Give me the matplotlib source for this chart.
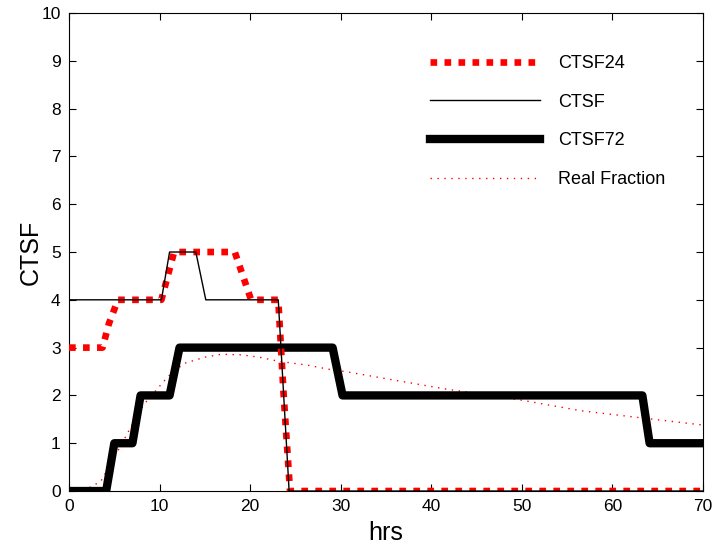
import matplotlib
matplotlib.use('Agg')
import matplotlib.pyplot as plt

plt.rcParams['font.family'] = ['Liberation Sans', 'DejaVu Sans']

# CTSF24 (red thick dotted)
ctsf24_t = [0, 3.7, 4.4, 5.4, 10.2, 10.9, 11.6, 18.3, 19.2, 20.1, 23.1, 23.7, 24.4, 70]
ctsf24_v = [3, 3, 3.5, 4, 4, 4.5, 5, 5, 4.5, 4, 4, 2, 0, 0]

# CTSF (thin black)
ctsf_t = [0, 10.2, 11.1, 14.0, 15.1, 23.1, 24.3, 70]
ctsf_v = [4, 4, 5, 5, 4, 4, 0, 0]

# CTSF72 (thick black)
ctsf72_t = [0, 4.1, 5.0, 7.0, 7.9, 11.1, 12.2, 29.1, 30.2, 63.3, 64.1, 70]
ctsf72_v = [0, 0, 1, 1, 2, 2, 3, 3, 2, 2, 1, 1]

# Real Fraction (thin red dotted)
real_t = [0, 2, 3.5, 5.6, 6.8, 8.3, 10.9, 12.7, 15, 16.8, 19, 21, 23, 26.4, 28.9, 30.8, 35, 41.4, 50, 56.5, 63.2, 70]
real_v = [0, 0.05, 0.2, 0.91, 1.33, 1.82, 2.39, 2.67, 2.8, 2.86, 2.85, 2.8, 2.72, 2.63, 2.54, 2.49, 2.35, 2.14, 1.9, 1.68, 1.53, 1.38]

fig = plt.figure(figsize=(7.19, 5.49), dpi=100)
ax = fig.add_axes([0.096, 0.1056, 0.8818, 0.8707])

ax.plot(ctsf24_t, ctsf24_v, color='red', lw=4.8, dashes=(1, 1.1), label='CTSF24', zorder=3)
ax.plot(ctsf_t, ctsf_v, color='black', lw=1, label='CTSF', zorder=4)
ax.plot(ctsf72_t, ctsf72_v, color='black', lw=6, label='CTSF72', zorder=2, solid_joinstyle='round')
ax.plot(real_t, real_v, color='red', lw=1, dashes=(1, 4), label='Real Fraction', zorder=1)

ax.set_xlim(0, 70)
ax.set_ylim(0, 10)
ax.set_xticks(range(0, 71, 10))
ax.set_yticks(range(0, 11))
ax.tick_params(direction='in', top=True, right=True, labelsize=12.5, length=5)
ax.tick_params(axis='x', pad=6)
ax.tick_params(axis='y', pad=6)
ax.set_xlabel('hrs', fontsize=18, labelpad=5)
ax.set_ylabel('CTSF', fontsize=18, labelpad=-1)

leg = ax.legend(loc='upper left', bbox_to_anchor=(0.569, 0.912), frameon=False,
                borderaxespad=0, borderpad=0,
                fontsize=13, handlelength=6.1, handletextpad=1.0, labelspacing=1.2)

fig.savefig('out.png', dpi=100)
